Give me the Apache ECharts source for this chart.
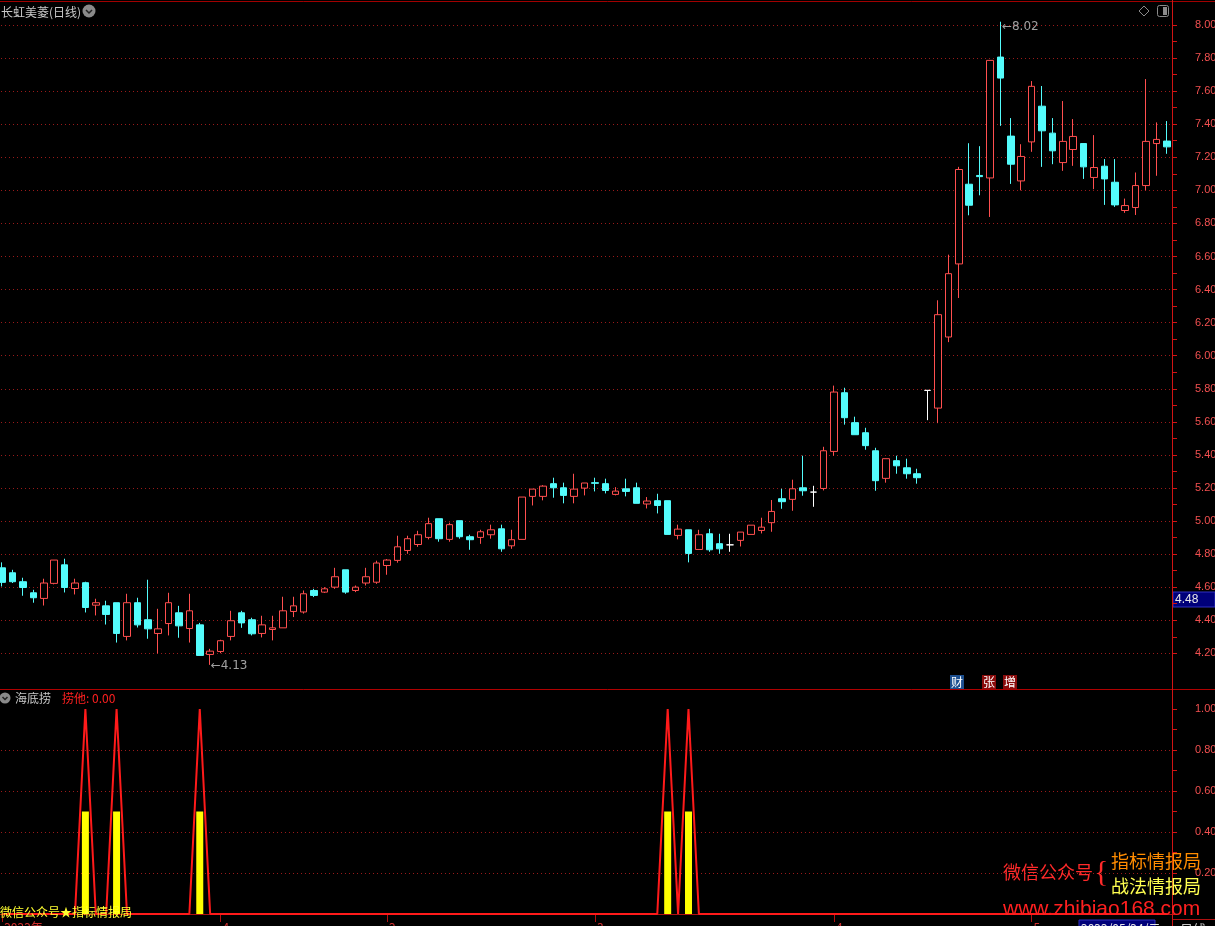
<!DOCTYPE html>
<html><head><meta charset="utf-8">
<script src="https://cdn.jsdelivr.net/npm/echarts/dist/echarts.min.js"></script>
<style>html,body{margin:0;padding:0;background:#000;overflow:hidden}#c{width:1215px;height:926px}</style>
</head><body><div id="c"></div>
<script>
// ---- data ----
const openP = [4.717,4.687,4.633,4.566,4.532,4.623,4.735,4.592,4.627,4.491,4.487,4.506,4.302,4.506,4.403,4.320,4.380,4.445,4.350,4.372,
4.193,4.211,4.302,4.445,4.403,4.320,4.344,4.354,4.453,4.45,4.58,4.57,4.60,4.705,4.58,4.625,4.63,4.731,4.762,4.822,
4.858,4.901,5.014,4.889,5.002,4.905,4.901,4.917,4.953,4.850,4.889,5.149,5.149,5.226,5.201,5.149,5.199,5.232,5.226,5.161,
5.195,5.201,5.103,5.123,5.123,4.913,4.947,4.828,4.923,4.863,4.856,4.883,4.919,4.943,4.990,5.135,5.131,5.201,5.175,5.197,
5.421,5.776,5.595,5.534,5.425,5.258,5.365,5.322,5.286,5.79,5.683,6.113,6.555,7.037,7.090,7.075,7.806,7.328,7.057,7.293,
7.509,7.346,7.168,7.247,7.283,7.078,7.146,7.049,6.878,6.896,7.029,7.283,7.298];
const closeP = [4.629,4.633,4.598,4.536,4.625,4.764,4.598,4.625,4.477,4.506,4.435,4.320,4.506,4.372,4.348,4.348,4.506,4.366,4.457,4.187,
4.213,4.276,4.397,4.384,4.318,4.372,4.354,4.457,4.487,4.56,4.55,4.59,4.663,4.57,4.60,4.663,4.746,4.764,4.844,4.893,
4.917,4.984,4.893,4.978,4.905,4.887,4.935,4.947,4.832,4.887,5.145,5.193,5.211,5.201,5.155,5.193,5.230,5.228,5.185,5.181,
5.179,5.107,5.121,5.094,4.919,4.951,4.804,4.917,4.826,4.832,4.856,4.933,4.975,4.963,5.058,5.117,5.195,5.183,5.175,5.425,
5.780,5.625,5.522,5.456,5.244,5.377,5.334,5.286,5.262,5.79,6.248,6.496,7.126,6.910,7.083,7.786,7.679,7.158,7.205,7.629,
7.360,7.239,7.296,7.326,7.142,7.138,7.069,6.912,6.908,7.029,7.296,7.308,7.263];
const lowP = [4.604,4.625,4.548,4.506,4.489,4.617,4.568,4.556,4.447,4.429,4.374,4.265,4.278,4.356,4.288,4.199,4.308,4.294,4.265,4.187,
4.130,4.201,4.278,4.354,4.308,4.296,4.278,4.354,4.419,4.44,4.54,4.565,4.59,4.56,4.57,4.61,4.62,4.675,4.748,4.802,
4.844,4.889,4.875,4.875,4.893,4.826,4.862,4.893,4.814,4.832,4.889,5.094,5.125,5.141,5.107,5.107,5.155,5.179,5.167,5.155,
5.149,5.107,5.076,5.046,4.919,4.889,4.750,4.828,4.814,4.802,4.814,4.846,4.919,4.925,4.935,5.074,5.062,5.153,5.086,5.185,
5.395,5.583,5.522,5.431,5.183,5.232,5.286,5.256,5.226,5.61,5.592,6.082,6.349,6.849,6.970,6.839,7.390,7.039,7.000,7.233,
7.142,7.158,7.118,7.148,7.069,7.007,6.912,6.900,6.864,6.851,7.000,7.088,7.221];
const highP = [4.750,4.705,4.657,4.584,4.651,4.764,4.772,4.651,4.633,4.530,4.518,4.506,4.560,4.536,4.645,4.469,4.566,4.487,4.560,4.384,
4.227,4.282,4.457,4.457,4.415,4.427,4.427,4.542,4.542,4.58,4.59,4.60,4.717,4.705,4.61,4.717,4.76,4.77,4.911,4.911,
4.941,5.020,5.014,4.990,5.002,4.917,4.947,4.978,4.978,4.947,5.145,5.193,5.217,5.262,5.232,5.286,5.230,5.262,5.256,5.205,
5.256,5.232,5.145,5.165,5.123,4.978,4.947,4.947,4.953,4.923,4.923,4.933,4.975,5.020,5.127,5.195,5.250,5.395,5.213,5.449,
5.819,5.806,5.631,5.564,5.443,5.377,5.395,5.377,5.316,5.79,6.335,6.611,7.142,7.285,7.267,7.786,8.020,7.437,7.279,7.661,
7.631,7.437,7.540,7.431,7.283,7.334,7.189,7.189,6.950,7.108,7.673,7.411,7.419];
// indicator 海底捞 : line "捞他" and yellow sticks
const laoTa = [0,0,0,0,0,0,0,0,1,0,0,1,0,0,0,0,0,0,0,1,
0,0,0,0,0,0,0,0,0,0,0,0,0,0,0,0,0,0,0,0,
0,0,0,0,0,0,0,0,0,0,0,0,0,0,0,0,0,0,0,0,
0,0,0,0,1,0,1,0,0,0,0,0,0,0,0,0,0,0,0,0,
0,0,0,0,0,0,0,0,0,0,0,0,0,0,0,0,0,0,0,0,
0,0,0,0,0,0,0,0,0,0,0,0,0];
const sticks = ['-','-','-','-','-','-','-','-',0.5,'-','-',0.5,'-','-','-','-','-','-','-',0.5,
'-','-','-','-','-','-','-','-','-','-','-','-','-','-','-','-','-','-','-','-',
'-','-','-','-','-','-','-','-','-','-','-','-','-','-','-','-','-','-','-','-',
'-','-','-','-',0.5,'-',0.5,'-','-','-','-','-','-','-','-','-','-','-','-','-',
'-','-','-','-','-','-','-','-','-','-','-','-','-','-','-','-','-','-','-','-',
'-','-','-','-','-','-','-','-','-','-','-','-','-'];
// bottom axis labels (month marks)
const monthMarks = {0:'2022年', 21:'4', 37:'2', 57:'3', 80:'4', 99:'5'};
const priceTicks = {min:4.2, max:8.0, step:0.2};
const subTicks = {min:0, max:1, step:0.2};

const N = openP.length;
const cats = openP.map((_, i) => String(i));
const xLabels = cats.map((_, i) => monthMarks[i] || '');
const kdata = openP.map((o, i) => [o, closeP[i], lowP[i], highP[i]]);
let hiIdx = 0, loIdx = 0;
highP.forEach((v, i) => { if (v > highP[hiIdx]) hiIdx = i; });
lowP.forEach((v, i) => { if (v < lowP[loIdx]) loIdx = i; });

const RED = '#ff4f4f', CYAN = '#54fcfc', AXIS = '#d01414', GRID = '#9a1a1a', LBL = '#f25050';
const CJK = '"Noto Sans CJK SC", sans-serif';
const NUMF = '"Liberation Sans", Arial, sans-serif';

const chart = echarts.init(document.getElementById('c'), null, {renderer:'canvas', width:1215, height:926});

function txt(x, y, s, color, size, font) {
  return {type:'text', x:x, y:y, silent:true, z:50,
    style:{text:s, fill:color, font:(size||12) + 'px ' + (font || CJK), textVerticalAlign:'middle'}};
}
function tag(x, y, s, bg) {
  return {type:'group', x:x, y:y, z:50, children:[
    {type:'rect', shape:{x:0,y:0,width:14,height:14}, style:{fill:bg}},
    {type:'text', x:1, y:7, style:{text:s, fill:'#fff', font:'12px ' + CJK, textVerticalAlign:'middle'}}
  ]};
}

const option = {
  backgroundColor:'#000',
  animation:false,
  grid:[
    {left:-3, right:43, top:25, height:628.3, outerBoundsMode:'none', containLabel:false},
    {left:-3, right:43, top:709, height:205, outerBoundsMode:'none', containLabel:false}
  ],
  xAxis:[
    {type:'category', gridIndex:0, data:cats, boundaryGap:true,
     axisLine:{show:false}, axisTick:{show:false}, axisLabel:{show:false}, splitLine:{show:false}},
    {type:'category', gridIndex:1, data:xLabels, boundaryGap:true, offset:5,
     axisLine:{show:true, lineStyle:{color:'#b01010', width:1}},
     axisTick:{show:true, alignWithLabel:true, length:8, interval:(i, v) => v !== '', lineStyle:{color:'#b01010'}},
     axisLabel:{show:true, interval:(i, v) => v !== '', align:'left', margin:2, color:'#d03030', fontSize:12, fontFamily:CJK, padding:[0,0,0,2]},
     splitLine:{show:false}}
  ],
  yAxis:[
    {type:'value', gridIndex:0, position:'right', min:priceTicks.min, max:priceTicks.max, interval:priceTicks.step,
     axisLine:{show:false},
     axisTick:{show:true, length:5, lineStyle:{color:AXIS}},
     minorTick:{show:true, splitNumber:2, length:5, lineStyle:{color:AXIS}},
     axisLabel:{color:LBL, fontSize:11, fontFamily:NUMF, margin:23, formatter:v => v.toFixed(2)},
     splitLine:{show:true, lineStyle:{color:GRID, type:[1,3], width:1}}},
    {type:'value', gridIndex:1, position:'right', min:subTicks.min, max:subTicks.max, interval:subTicks.step,
     axisLine:{show:false},
     axisTick:{show:true, length:5, lineStyle:{color:AXIS}},
     minorTick:{show:true, splitNumber:2, length:5, lineStyle:{color:AXIS}},
     axisLabel:{color:LBL, fontSize:11, fontFamily:NUMF, margin:23, showMinLabel:false, formatter:v => v.toFixed(2)},
     splitLine:{show:true, showMinLine:false, showMaxLine:false, lineStyle:{color:GRID, type:[1,3], width:1}}}
  ],
  series:[
    {type:'candlestick', name:'K', xAxisIndex:0, yAxisIndex:0, data:kdata, barWidth:7, clip:false,
     itemStyle:{color:'#000', color0:CYAN, borderColor:RED, borderColor0:CYAN, borderColorDoji:'#ffffff', borderWidth:1}},
    // high / low annotations
    {type:'scatter', name:'extremes', xAxisIndex:0, yAxisIndex:0, clip:false, symbol:'circle', symbolSize:1, z:10,
     itemStyle:{color:'rgba(0,0,0,0)'},
     label:{show:true, position:'right', distance:0, color:'#c8c8c8', fontSize:12, fontFamily:'"DejaVu Sans", sans-serif',
            formatter:p => '\u2190' + Number(p.value[1]).toFixed(2)},
     data:[
       {value:[String(hiIdx), highP[hiIdx]], label:{offset:[1,5]}},
       {value:[String(loIdx), lowP[loIdx]], label:{offset:[0,1]}}
     ]},
    {type:'bar', name:'stick', xAxisIndex:1, yAxisIndex:1, data:sticks, barWidth:7, itemStyle:{color:'#ffff00'}, z:2},
    {type:'line', name:'捞他', xAxisIndex:1, yAxisIndex:1, data:laoTa, symbol:'none', clip:false,
     lineStyle:{color:'#ff1a1a', width:2}, z:3}
  ],
  graphic:[
    // frame lines
    {type:'line', z:40, shape:{x1:0,y1:1.5,x2:1215,y2:1.5}, style:{stroke:'#a00000', lineWidth:1}},
    {type:'line', z:40, shape:{x1:0,y1:689.5,x2:1215,y2:689.5}, style:{stroke:'#b00000', lineWidth:1}},
    {type:'line', z:40, shape:{x1:1172.5,y1:0,x2:1172.5,y2:926}, style:{stroke:AXIS, lineWidth:1}},
    // title
    txt(1, 12, '长虹美菱(日线)', '#c8c8c8', 12),
    {type:'circle', z:50, shape:{cx:89, cy:11, r:6.5}, style:{fill:'#8a8a8a'}},
    {type:'polyline', z:51, shape:{points:[[86,10],[89,13],[92,10]]}, style:{stroke:'#222', lineWidth:1.5, fill:null}},
    // top right icons
    {type:'polygon', z:50, shape:{points:[[1144,6],[1149,11],[1144,16],[1139,11]]}, style:{stroke:'#8a8a8a', fill:null, lineWidth:1}},
    {type:'rect', z:50, shape:{x:1157.5,y:5.5,width:11,height:11,r:2}, style:{stroke:'#8a8a8a', fill:null, lineWidth:1}},
    {type:'rect', z:50, shape:{x:1163,y:7,width:4,height:8}, style:{fill:'#8a8a8a'}},
    // tags
    tag(950, 675, '财', '#1d4f8f'),
    tag(982, 675, '张', '#8a0c0c'),
    tag(1003, 675, '增', '#8a0c0c'),
    // price cursor box
    {type:'group', x:1173, y:592, z:60, children:[
      {type:'rect', shape:{x:0,y:0,width:42,height:15}, style:{fill:'#00007a', stroke:'#3030c0', lineWidth:1}},
      {type:'text', x:2, y:8, style:{text:'4.48', fill:'#e8e8e8', font:'12px ' + NUMF, textVerticalAlign:'middle'}}
    ]},
    // sub panel title
    {type:'circle', z:50, shape:{cx:5, cy:698, r:5.5}, style:{fill:'#8a8a8a'}},
    {type:'polyline', z:51, shape:{points:[[2.5,697],[5,699.5],[7.5,697]]}, style:{stroke:'#222', lineWidth:1.5, fill:null}},
    txt(15, 698, '海底捞', '#c8c8c8', 12),
    txt(62, 698, '捞他: 0.00', '#ff2020', 12),
    // watermarks
    txt(0, 912, '微信公众号★指标情报局', '#ffff30', 12),
    txt(1003, 872, '微信公众号', '#ff2a2a', 18),
    txt(1094, 873, '{', '#ff2a2a', 30, '"Liberation Serif", serif'),
    txt(1111, 861, '指标情报局', '#ff8c00', 18),
    txt(1111, 886, '战法情报局', '#ffff50', 18),
    txt(1003, 909, 'www.zhibiao168.com', '#ff2020', 21, NUMF),
    // bottom date box
    {type:'group', x:1079, y:920, z:60, children:[
      {type:'rect', shape:{x:0,y:0,width:76,height:16}, style:{fill:'#00007a', stroke:'#3030c0'}},
      {type:'text', x:2, y:8, style:{text:'2022/05/24/二', fill:'#e8e8e8', font:'12px ' + CJK, textVerticalAlign:'middle'}}
    ]},
    {type:'line', z:40, shape:{x1:1172.5,y1:919.5,x2:1215,y2:919.5}, style:{stroke:'#b01010'}},
    txt(1180, 929, '日线', '#c8c8c8', 13)
  ]
};
chart.setOption(option);
</script>
</body></html>
